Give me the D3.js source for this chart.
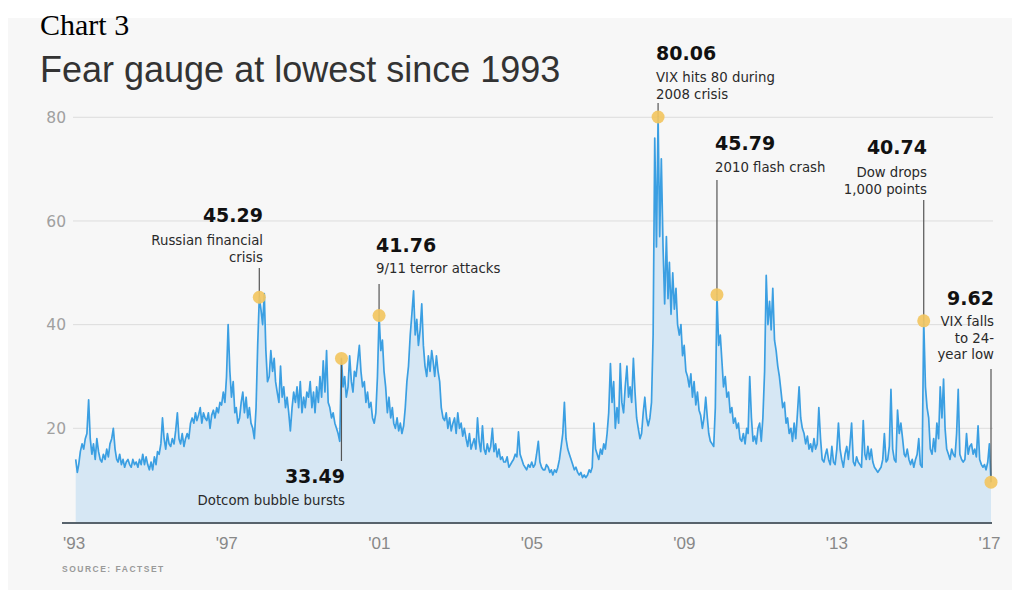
<!DOCTYPE html>
<html>
<head>
<meta charset="utf-8">
<script src="https://cdn.jsdelivr.net/npm/d3@7"></script>
<style>
  html, body { margin: 0; padding: 0; background: #ffffff; }
  svg { display: block; }
</style>
</head>
<body>
<svg id="chart" width="1020" height="592"></svg>
<script>
// CBOE Volatility Index (VIX), readings on the 1st and 16th of each month,
// starting February 1994 and running through May 2017.
const firstReading = [1994, 1]; // year, zero-based month
const vixValues = [
  // 1994 (from February)
  14, 11.5, 13, 15.5, 17, 16, 18, 19, 25.5, 18, 15, 17, 14, 18, 15.5, 14, 13.5, 15, 14, 16, 14.5, 17,
  // 1995
  18, 20, 16, 14, 13.5, 15, 13, 14, 12.5, 13.5, 14, 13, 12.5, 14, 13, 13.5, 12.5, 14, 13, 15, 13, 14.5, 13, 12,
  // 1996
  13.5, 12, 14.5, 13, 15.5, 15, 17, 22, 18, 16, 19, 17, 16.5, 18, 17, 19.5, 23, 18, 17, 19, 16.5, 18, 19, 18,
  // 1997
  21, 22, 21, 23, 21.5, 22.5, 24, 21, 23, 22, 21.5, 23, 20, 22.5, 23.5, 22, 24, 23, 25, 24.5, 27, 25, 30, 40,
  // 1998
  31, 26, 29, 23, 24, 21, 22, 25, 27, 23, 26, 22, 24, 21, 20, 18, 24, 36, 45.29, 43, 40, 46, 35, 29,
  // 1999
  30, 35, 31, 33.5, 29, 27, 25, 32, 26, 28, 24, 26, 23, 19.5, 24, 27, 25, 28, 24, 29, 23, 26, 24, 27,
  // 2000
  26, 29, 24, 27, 23, 28, 25, 30, 26, 33, 27, 35, 25, 24, 22, 23, 21, 20, 19, 17.5, 33.49, 28, 30, 26,
  // 2001
  28, 34, 29, 27, 31, 30, 33, 36, 31, 28, 29, 25, 27, 24, 25, 22, 21, 23, 30, 41.76, 35, 37, 31, 28,
  // 2002
  23, 26, 22, 24, 21, 20, 22, 19.5, 21, 19, 20.5, 24, 29, 32, 38, 42, 46.5, 38, 41, 36, 39, 44, 36, 32,
  // 2003
  30, 34, 31, 35, 33, 30, 34, 31, 29, 24, 22, 21.5, 23, 20, 22, 19.5, 21, 22, 19, 23, 20, 21, 18.5, 20,
  // 2004
  18, 16.5, 19, 16, 17, 18, 16, 22, 17.5, 15.5, 20.5, 16, 15, 17, 15.5, 16.5, 20, 15.5, 17, 14.5, 16, 14, 14.5, 13.5,
  // 2005
  13.5, 14.5, 12.5, 13, 13.5, 14, 15, 14.5, 19.3, 15, 14, 13, 12.5, 12, 13, 12.5, 13.5, 12.5, 13, 15, 17.5, 13.5, 12.5, 12,
  // 2006
  12, 13, 12.5, 11.5, 12, 11, 12, 11.5, 12.5, 14, 16.5, 19, 25, 18, 16, 15, 14, 13, 12, 12.5, 11.5, 11, 11.5, 10.5,
  // 2007
  11, 10.5, 11, 12, 11.5, 12.5, 21, 16, 15, 14, 16, 15, 17, 16, 19, 23, 32.5, 25, 29, 20, 24, 21, 32.5, 25,
  // 2008
  23, 28, 32, 26, 28, 25, 33.5, 27, 22, 20, 18, 19, 23, 26, 22, 20.5, 22, 25, 38, 76, 55, 80.06, 57, 72,
  // 2009
  55, 44, 57, 45, 52, 42, 50, 43, 47, 40, 38, 40, 34, 36, 31, 30, 28, 30.5, 26, 29, 24.5, 27, 23.5, 22.5,
  // 2010
  20, 22, 26, 22, 19, 17.5, 17, 16.5, 24, 45.79, 36, 38, 33, 28, 30, 26, 27, 23, 24, 21, 22, 20, 21, 18,
  // 2011
  17.5, 19, 17, 20, 19, 30, 22, 17.5, 18.5, 17, 20, 21, 17.5, 22, 31, 49.5, 40, 44.5, 39, 47, 37, 35, 32, 30,
  // 2012
  27, 24, 25, 21, 22, 19, 20, 17.5, 21, 18, 23, 28, 22, 20, 19, 17, 18.5, 16, 17, 15.5, 18, 16, 17, 24,
  // 2013
  18, 14, 13.5, 15, 16, 14, 13, 16.5, 13.5, 13, 16, 21, 16, 14, 12.5, 15, 16.5, 14, 17, 21, 13.5, 12.8, 14.5, 13.5,
  // 2014
  13, 12.5, 21.5, 15, 14, 16.5, 14, 16, 13.5, 12.5, 12, 11.5, 12, 12.5, 14, 19, 13.5, 14, 16.5, 27.5, 16, 14, 13.5, 23.5,
  // 2015
  19, 21, 18, 15, 14.5, 16, 14, 13, 14, 12.5, 14, 15, 18, 13, 12.5, 40.74, 28, 24, 22, 16, 15, 18, 15.5, 21,
  // 2016
  18, 28, 22, 29.5, 20, 16, 15, 14, 16, 15, 14.5, 19, 27.5, 15, 14, 13.5, 14, 19, 15, 16.5, 17, 15, 16, 14.5,
  // 2017 (to May)
  20.5, 14, 13, 12.5, 13, 12, 13.5, 17, 9.62
];

const yTicks = [20, 40, 60, 80];
const xTickLabels = ["'93", "'97", "'01", "'05", "'09", "'13", "'17"];

// Annotated events
const eventDates  = ["1998-10-01", "2000-11-01", "2001-10-16", "2008-11-16", "2010-05-16", "2015-08-16", "2017-05-01"];
const eventValues = [45.29, 33.49, 41.76, 80.06, 45.79, 40.74, 9.62];
const eventNotes  = [
  ["Russian financial", "crisis"],
  ["Dotcom bubble bursts"],
  ["9/11 terror attacks"],
  ["VIX hits 80 during", "2008 crisis"],
  ["2010 flash crash"],
  ["Dow drops", "1,000 points"],
  ["VIX falls", "to 24-", "year low"]
];

// ---------------------------------------------------------------------------
const svg = d3.select("#chart");
const W = 1020, H = 592;

const plot = { left: 75.7, right: 991, axisY: 523, gridLeft: 73, gridRight: 993 };

const dates = vixValues.map((_, i) =>
  new Date(firstReading[0], firstReading[1] + Math.floor(i / 2), i % 2 ? 16 : 1));
const series = vixValues.map((v, i) => ({ date: dates[i], value: v }));

const x = d3.scaleTime()
  .domain([dates[0], dates[dates.length - 1]])
  .range([plot.left, plot.right]);

const y = d3.scaleLinear().domain([0, 80]).range([532, 117.3]);

// panel background
svg.append("rect").attr("x", 0).attr("y", 0).attr("width", W).attr("height", H).attr("fill", "#ffffff");
svg.append("rect").attr("x", 8).attr("y", 18).attr("width", 1004).attr("height", 572).attr("fill", "#f7f7f7");

// headings
svg.append("text")
  .attr("x", 40).attr("y", 35)
  .attr("font-family", "'Liberation Serif', 'Times New Roman', serif")
  .attr("font-size", 30).attr("fill", "#000")
  .text("Chart 3");

svg.append("text")
  .attr("x", 40).attr("y", 82)
  .attr("font-family", "'Liberation Sans', Arial, sans-serif")
  .attr("font-size", 36).attr("fill", "#333")
  .text("Fear gauge at lowest since 1993");

// horizontal grid + y labels
const grid = svg.append("g");
grid.selectAll("line").data(yTicks).join("line")
  .attr("x1", plot.gridLeft).attr("x2", plot.gridRight)
  .attr("y1", d => y(d)).attr("y2", d => y(d))
  .attr("stroke", "#dddddd").attr("stroke-width", 1);
grid.selectAll("text").data(yTicks).join("text")
  .attr("x", 66).attr("y", d => y(d)).attr("dy", "0.36em")
  .attr("text-anchor", "end")
  .attr("font-family", "'DejaVu Sans', sans-serif")
  .attr("font-size", 15.5).attr("fill", "#a0a0a0")
  .text(d => d);

// area + line
const area = d3.area()
  .x(d => x(d.date))
  .y0(plot.axisY)
  .y1(d => y(d.value));
const line = d3.line()
  .x(d => x(d.date))
  .y(d => y(d.value));

svg.append("path").datum(series)
  .attr("d", area)
  .attr("fill", "#d6e7f4");
svg.append("path").datum(series)
  .attr("d", line)
  .attr("fill", "none")
  .attr("stroke", "#3b9fe2")
  .attr("stroke-width", 1.7)
  .attr("stroke-linejoin", "round");

// x axis: labels spread evenly from the first to the last reading
const [d0, d1] = x.domain();
const tickDates = xTickLabels.map((_, i) => new Date(+d0 + i * (d1 - d0) / (xTickLabels.length - 1)));
const xAxis = d3.axisBottom(x)
  .tickValues(tickDates)
  .tickFormat((d, i) => xTickLabels[i])
  .tickSize(0)
  .tickPadding(14);
const gx = svg.append("g").attr("transform", `translate(0,${plot.axisY})`).call(xAxis);
gx.select(".domain").remove();
gx.selectAll("text")
  .attr("font-family", "'Liberation Sans Narrow', 'Arial Narrow', sans-serif")
  .attr("font-size", 17).attr("fill", "#888")
  .attr("dx", -2);
svg.append("line")
  .attr("x1", 62).attr("x2", 992)
  .attr("y1", plot.axisY).attr("y2", plot.axisY)
  .attr("stroke", "#58636c").attr("stroke-width", 2);

// source
svg.append("text")
  .attr("x", 62).attr("y", 572)
  .attr("font-family", "'Liberation Sans Narrow', 'Arial Narrow', sans-serif")
  .attr("font-weight", "bold")
  .attr("font-size", 8.5).attr("letter-spacing", 1.5).attr("fill", "#9a9a9a")
  .text("SOURCE: FACTSET");

// event annotations
const parse = d3.timeParse("%Y-%m-%d");
const events = eventDates.map((d, i) => ({ date: parse(d), value: eventValues[i], note: eventNotes[i] }));

// label placement: text anchor, text x, number baseline, first note baseline, leader end
const labelLayout = [
  { anchor: "end",   tx: 263, numY: 222, noteY: 245, leadTo: 268 },
  { anchor: "end",   tx: 345, numY: 483, noteY: 505, leadTo: 461 },
  { anchor: "start", tx: 376, numY: 252, noteY: 273, leadTo: 284 },
  { anchor: "start", tx: 656, numY: 60,  noteY: 82,  leadTo: 103 },
  { anchor: "start", tx: 715, numY: 150, noteY: 172, leadTo: 180 },
  { anchor: "end",   tx: 927, numY: 154, noteY: 177, leadTo: 200 },
  { anchor: "end",   tx: 994, numY: 305, noteY: 326, leadTo: 369 }
];

const ann = svg.append("g");
events.forEach((e, i) => {
  const L = labelLayout[i];
  const ex = x(e.date), ey = y(e.value);
  ann.append("line")
    .attr("x1", ex).attr("x2", ex)
    .attr("y1", L.leadTo).attr("y2", ey)
    .attr("stroke", "#555").attr("stroke-width", 1.2);
  ann.append("circle")
    .attr("cx", ex).attr("cy", ey).attr("r", 6.5)
    .attr("fill", "#f2c661").attr("fill-opacity", 0.92);
  ann.append("text")
    .attr("x", L.tx).attr("y", L.numY)
    .attr("text-anchor", L.anchor)
    .attr("font-family", "'DejaVu Sans', sans-serif")
    .attr("font-weight", "bold").attr("font-size", 19).attr("fill", "#111")
    .text(d3.format(".2f")(e.value));
  e.note.forEach((t, k) => {
    ann.append("text")
      .attr("x", L.tx).attr("y", L.noteY + k * 16.5)
      .attr("text-anchor", L.anchor)
      .attr("font-family", "'DejaVu Sans', sans-serif")
      .attr("font-size", 13.3).attr("fill", "#2a2a2a")
      .text(t);
  });
});
</script>
</body>
</html>
